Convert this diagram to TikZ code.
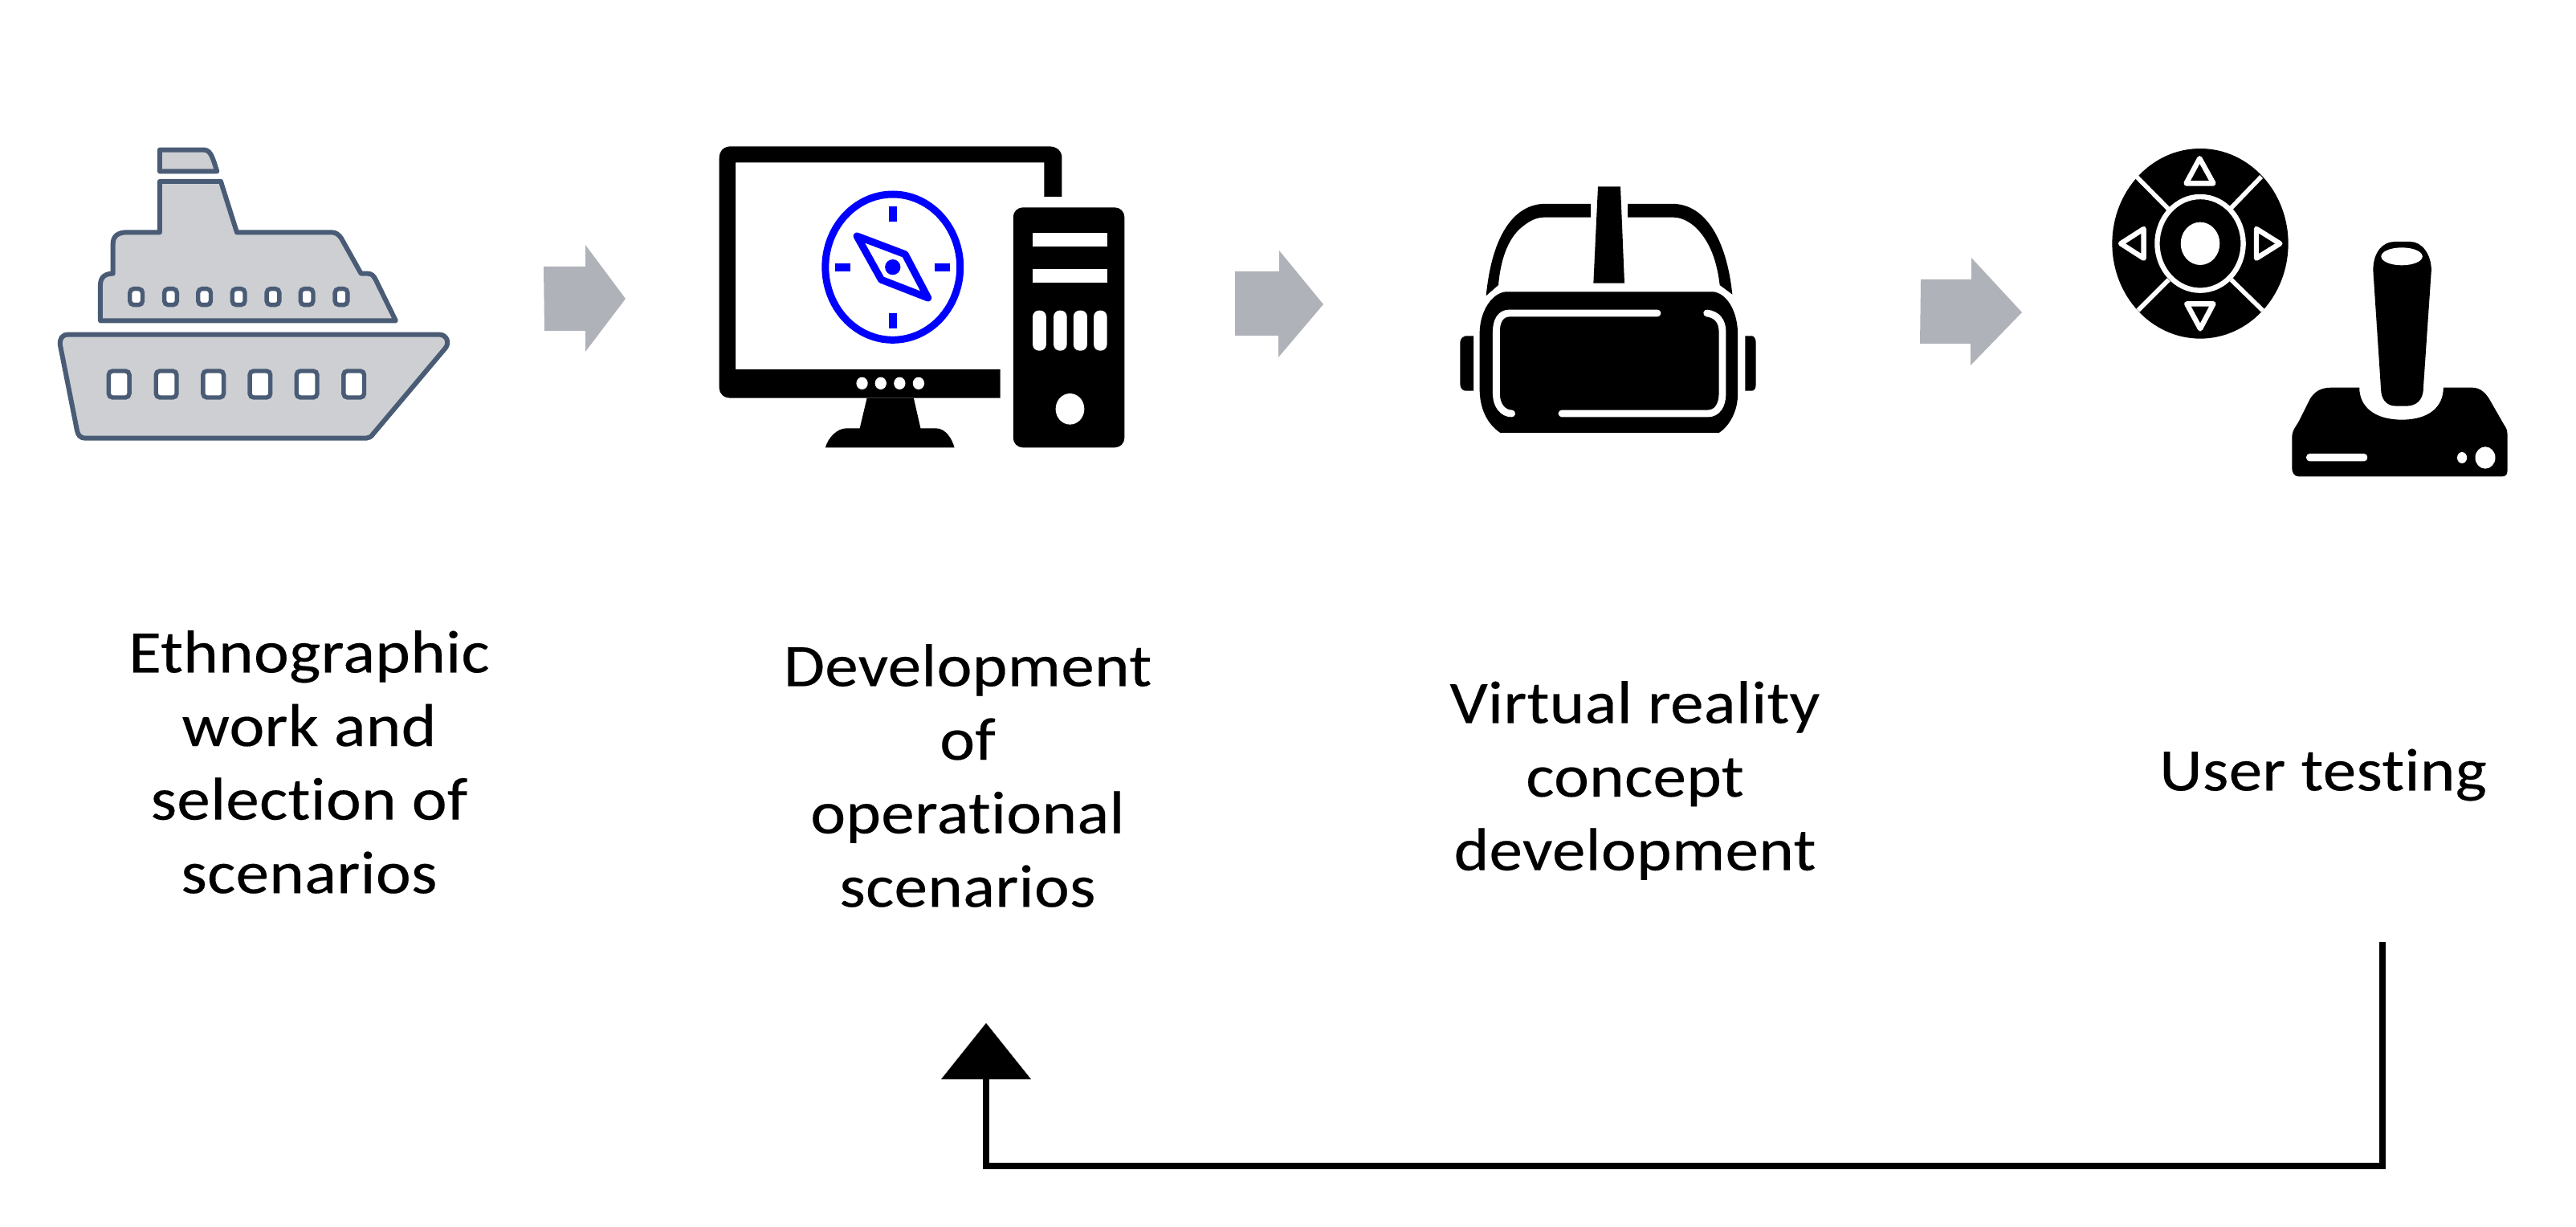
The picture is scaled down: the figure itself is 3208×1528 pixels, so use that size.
\documentclass[tikz,border=0pt]{standalone}
\usepackage{fontspec}
\setmainfont[FakeStretch=1.105,LetterSpace=0.4,FakeBold=0.25,Ligatures=NoCommon]{Carlito}
\usetikzlibrary{arrows.meta}
\definecolor{shipfill}{HTML}{CDCFD3}
\definecolor{shipline}{HTML}{4A5C75}
\definecolor{blockgrey}{HTML}{AFB2B9}
\definecolor{compassblue}{HTML}{0000FF}
\tikzset{
  shippart/.style={draw=shipline,fill=shipfill,line width=1.5pt,line join=round},
  shipwin/.style={draw=shipline,fill=white,line width=1.35pt,rounded corners=1.2pt},
  blockarrow/.style={fill=blockgrey},
  compassline/.style={draw=compassblue,line width=2.25pt,line join=round},
  compassmark/.style={fill=compassblue},
  cutline/.style={draw=white,line width=2.2pt,line cap=round},
  padline/.style={draw=white,line width=1.4pt},
  tri/.style={draw=white,line width=1.6pt,line join=round},
  caption/.style={align=center,inner sep=0pt,font=\fontsize{18.8}{22.9}\selectfont},
  loopline/.style={draw=black,line width=2.1pt,-{Triangle[length=17.5pt,width=27.5pt]}}
}
\begin{document}
\begin{tikzpicture}[x=0.25pt,y=-0.25pt]
\useasboundingbox (0,0) rectangle (3208,1528);
% ship
\begin{scope}[shift={(40,150)},xscale=1/2.8,yscale=1/3]
\path[shippart] (445,110)--(600,110) .. controls (625,110) and (632,150) .. (645,190)--(445,190)--cycle;
\path[shippart] (445,228)--(658,228)--(714,418)--(1045,418) .. controls (1060,418) and (1070,428) .. (1078,440)--(1147,572)--(1170,572) .. controls (1185,572) and (1192,582) .. (1198,595)--(1268,748)--(238,748)--(238,615) .. controls (238,585) and (255,572) .. (282,572)--(282,460) .. controls (282,432) and (300,418) .. (330,418)--(445,418)--cycle;
\path[shippart] (125,800)--(1420,800) .. controls (1445,800) and (1458,830) .. (1440,852)--(1190,1170) .. controls (1182,1182) and (1175,1187) .. (1165,1187)--(185,1187) .. controls (168,1187) and (160,1175) .. (157,1160)--(98,840) .. controls (95,815) and (105,800) .. (125,800)--cycle;
\foreach \c in {363,483,601,720,840,958,1078}{
  \path[shipwin] (\c-22,629) rectangle (\c+22,689);}
\foreach \c in {303,468,632,795,958,1122}{
  \path[shipwin] (\c-36,936) rectangle (\c+36,1035);}
\end{scope}
% computer
\begin{scope}[shift={(860,150)},xscale=1/2.8,yscale=1/3]
\fill (100,140) .. controls (100,115) and (115,97) .. (140,97)--(1250,97) .. controls (1278,97) and (1295,115) .. (1295,140)--(1295,285)--(1233,285)--(1233,157)--(157,157)--(157,930)--(1080,930)--(1080,1037)--(140,1037) .. controls (115,1037) and (100,1020) .. (100,1000)--cycle;
\fill (615,1037)--(778,1037)--(802,1150)--(855,1150) .. controls (890,1150) and (912,1190) .. (920,1222)--(470,1222) .. controls (480,1185) and (510,1150) .. (545,1150)--(590,1150)--cycle;
\foreach \c in {598,663,729,795}{\fill[white] (\c,982) ellipse [x radius=20,y radius=23];}
\fill[rounded corners=3pt] (1125,325) rectangle (1513,1222);
\fill[white] (1193,421) rectangle (1452,472);
\fill[white] (1193,556) rectangle (1452,607);
\foreach \a/\b in {1193/1240,1266/1312,1335/1383,1406/1452}{
  \fill[white,rounded corners=1.9pt] (\a,710) rectangle (\b,860);}
\fill[white] (1323,1078) ellipse [x radius=50,y radius=58];
\path[compassline] (705,548) ellipse [x radius=235,y radius=272];
\fill[compassmark] (691,320) rectangle (719,377);
\fill[compassmark] (691,720) rectangle (719,778);
\fill[compassmark] (505,534) rectangle (556,564);
\fill[compassmark] (852,534) rectangle (904,564);
\path[compassline] (580,432)--(748,500)--(828,663)--(665,595)--cycle;
\fill[compassmark] (705,548) ellipse [x radius=27,y radius=29];
\end{scope}
% VR headset
\begin{scope}[shift={(1780,200)},scale=1/3]
\fill (630,97)--(714,97)--(729,458)--(613,458)--cycle;
\fill (603,162)--(420,162) .. controls (320,170) and (235,270) .. (212,505)--(258,465) .. controls (265,380) and (290,290) .. (350,245) .. controls (375,225) and (400,212) .. (430,212)--(603,212)--cycle;
\fill (741,162)--(920,162) .. controls (1030,170) and (1110,290) .. (1132,500)--(1085,465) .. controls (1075,380) and (1050,300) .. (990,245) .. controls (965,225) and (940,212) .. (910,212)--(741,212)--cycle;
\fill (285,490)--(1060,490) .. controls (1110,495) and (1150,560) .. (1152,640)--(1152,880) .. controls (1150,950) and (1110,1000) .. (1082,1017)--(265,1017) .. controls (225,990) and (190,940) .. (188,860)--(188,640) .. controls (190,560) and (235,495) .. (285,490)--cycle;
\draw[cutline] (852,570)--(300,570) .. controls (265,570) and (250,600) .. (250,640)--(250,870) .. controls (250,915) and (275,945) .. (308,945);
\draw[cutline] (495,945)--(1040,945) .. controls (1075,945) and (1095,915) .. (1095,870)--(1095,640) .. controls (1095,600) and (1075,575) .. (1037,570);
\fill (165,655)--(135,655) .. controls (120,660) and (115,670) .. (115,680)--(115,835) .. controls (115,850) and (125,860) .. (135,860)--(165,860)--cycle;
\fill (1180,655)--(1205,655) .. controls (1215,655) and (1220,670) .. (1220,680)--(1220,835) .. controls (1220,850) and (1215,860) .. (1205,860)--(1180,860)--cycle;
\end{scope}
% joystick
\begin{scope}[shift={(2600,160)},xscale=1/2.8,yscale=1/3]
\fill (392,430) ellipse [x radius=307,y radius=355];
\path[padline] (170,180)--(285,305);
\path[padline] (605,180)--(497,300);
\path[padline] (175,680)--(282,565);
\path[padline] (610,680)--(500,565);
\path[draw=white,line width=1.6pt] (392,430) ellipse [x radius=150,y radius=175];
\fill[white] (392,430) ellipse [x radius=68,y radius=80];
\path[tri] (390,112)--(343,205)--(438,205)--cycle;
\path[tri] (345,655)--(438,655)--(392,748)--cycle;
\path[tri] (115,430)--(195,375)--(195,485)--cycle;
\path[tri] (670,430)--(588,375)--(588,485)--cycle;
\fill (995,530) .. controls (995,460) and (1030,423) .. (1070,423)--(1125,423) .. controls (1165,423) and (1198,470) .. (1198,530)--(1170,970) .. controls (1170,1020) and (1140,1037) .. (1110,1037)--(1075,1037) .. controls (1040,1037) and (1022,1010) .. (1022,970)--cycle;
\fill[white] (1095,478) ellipse [x radius=72,y radius=33];
\fill (712,1150) .. controls (715,1120) and (730,1110) .. (740,1085)--(775,1010) .. controls (790,985) and (810,968) .. (850,968)--(947,968) .. controls (947,1040) and (1000,1088) .. (1095,1088) .. controls (1190,1088) and (1240,1040) .. (1240,968)--(1340,968) .. controls (1370,968) and (1390,990) .. (1405,1020)--(1445,1095) .. controls (1455,1115) and (1463,1120) .. (1463,1140)--(1463,1280) .. controls (1463,1295) and (1455,1300) .. (1445,1300)--(735,1300) .. controls (720,1300) and (712,1285) .. (712,1270)--cycle;
\fill[white,rounded corners=1pt] (762,1215) rectangle (975,1243);
\fill[white] (1305,1230) ellipse [x radius=17,y radius=21];
\fill[white] (1386,1230) ellipse [x radius=35,y radius=41];
\end{scope}
% block arrows
\fill[blockarrow] (677,332)--(729,332)--(729,305)--(779,372)--(729,438)--(729,412)--(678,412)--cycle;
\fill[blockarrow] (1538,338)--(1593,338)--(1593,312)--(1648,379)--(1592,445)--(1592,418)--(1538,418)--cycle;
\fill[blockarrow] (2392,348)--(2455,348)--(2455,321)--(2518,389)--(2454,455)--(2454,428)--(2391,428)--cycle;
% captions
\node[caption] (ethno) at (385,949) {Ethnographic\\work and\\selection of\\scenarios};
\node[caption] (devel) at (1205,966) {Development\\of\\operational\\scenarios};
\node[caption] (vrcon) at (2036,972) {Virtual reality\\concept\\development};
\node[caption] (usert) at (2893,965) {User testing};
% feedback connector
\coordinate (loopstart) at (2967,1173);
\coordinate (loopcornerR) at (2967,1452);
\coordinate (loopcornerL) at (1228,1452);
\coordinate (looptip) at (1228,1274);
\draw[loopline] (loopstart)--(loopcornerR)--(loopcornerL)--(looptip);
\end{tikzpicture}
\end{document}
